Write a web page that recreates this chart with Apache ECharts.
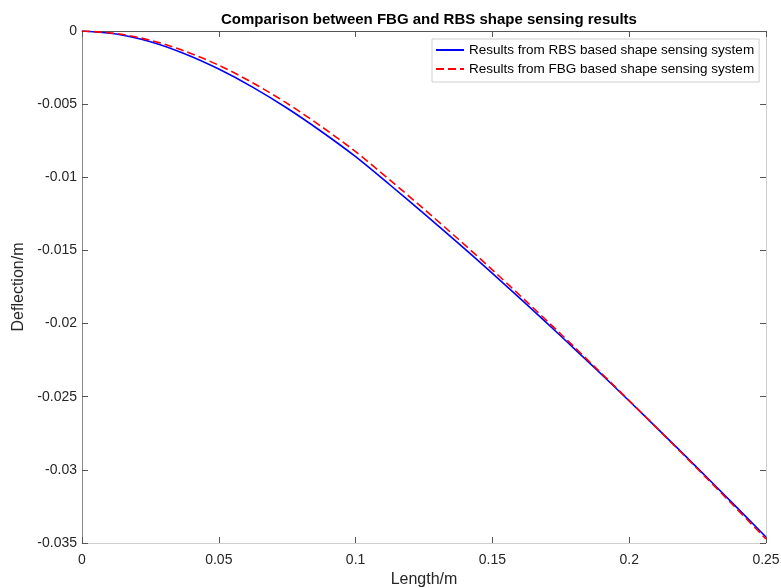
<!DOCTYPE html>
<html>
<head>
<meta charset="utf-8">
<script src="https://cdn.jsdelivr.net/npm/echarts@6/dist/echarts.min.js"></script>
<style>html,body{margin:0;padding:0;background:#fff;}#c{width:781px;height:588px;}</style>
</head>
<body>
<div id="c"></div>
<script>
const lengths = [0, 0.0125, 0.025, 0.0375, 0.05, 0.0625, 0.075, 0.0875, 0.1, 0.1125, 0.125, 0.1375, 0.15, 0.1625, 0.175, 0.1875, 0.2, 0.2125, 0.225, 0.2375, 0.25];
const rbsDeflection = [0, -0.0002, -0.00073, -0.00155, -0.0026, -0.00385, -0.00528, -0.00687, -0.00859, -0.01051, -0.01248, -0.0145, -0.01657, -0.01869, -0.02085, -0.02305, -0.02529, -0.02757, -0.02988, -0.03222, -0.03459];
const fbgDeflection = [0, -0.00017, -0.00063, -0.00137, -0.00234, -0.00355, -0.00495, -0.00653, -0.00825, -0.01018, -0.01217, -0.01422, -0.01633, -0.0185, -0.02071, -0.02297, -0.02526, -0.02759, -0.02994, -0.03232, -0.03473];
const seriesNames = ['Results from RBS based shape sensing system', 'Results from FBG based shape sensing system'];
const xTickLabels = ['0', '0.05', '0.1', '0.15', '0.2', '0.25'];
const yTickLabels = ['0', '-0.005', '-0.01', '-0.015', '-0.02', '-0.025', '-0.03', '-0.035'];

const font = 'Liberation Sans, Arial, Helvetica, sans-serif';
const chart = echarts.init(document.getElementById('c'), null, {renderer: 'canvas'});
const fmt = v => String(+(+v).toFixed(4));
const pair = (xs, ys) => xs.map((x, i) => [x, ys[i]]);
const tick = {show: true, inside: true, length: 6, lineStyle: {color: '#555'}};

chart.setOption({
  animation: false,
  backgroundColor: '#fff',
  title: {
    text: 'Comparison between FBG and RBS shape sensing results',
    left: 424, top: 7, textAlign: 'center',
    textStyle: {fontFamily: font, fontSize: 15, fontWeight: 'bold', color: '#000'}
  },
  legend: {
    orient: 'vertical', left: 432, top: 39,
    padding: [4, 5, 6, 3], itemGap: 5, itemWidth: 28, itemHeight: 14,
    backgroundColor: '#fff', borderColor: '#cfcfcf', borderWidth: 1, borderRadius: 0,
    itemStyle: {opacity: 0},
    textStyle: {fontFamily: font, fontSize: 13.5, color: '#000'},
    data: seriesNames
  },
  grid: {left: 82, right: 15, top: 31, bottom: 45, containLabel: false, outerBoundsMode: 'none'},
  xAxis: [{
    type: 'value', min: 0, max: 0.25, interval: 0.05,
    name: 'Length/m', nameLocation: 'middle', nameGap: 27,
    nameTextStyle: {fontFamily: font, fontSize: 16, color: '#262626'},
    axisLine: {show: true, onZero: false, lineStyle: {color: '#cfcfcf', width: 1}},
    axisTick: tick,
    axisLabel: {fontFamily: font, fontSize: 14, color: '#262626', margin: 10,
      formatter: v => { const i = xTickLabels.indexOf(fmt(v)); return i >= 0 ? xTickLabels[i] : fmt(v); }},
    splitLine: {show: false}
  }, {
    type: 'value', position: 'top', min: 0, max: 0.25, interval: 0.05,
    axisLine: {show: true, onZero: false, lineStyle: {color: '#555', width: 1}},
    axisTick: tick,
    axisLabel: {show: false}, splitLine: {show: false}
  }],
  yAxis: [{
    type: 'value', min: -0.035, max: 0, interval: 0.005,
    name: 'Deflection/m', nameLocation: 'middle', nameGap: 53,
    nameTextStyle: {fontFamily: font, fontSize: 16, color: '#262626'},
    axisLine: {show: true, onZero: false, lineStyle: {color: '#888', width: 1}},
    axisTick: tick,
    axisLabel: {fontFamily: font, fontSize: 14, color: '#262626', margin: 5,
      formatter: v => { const i = yTickLabels.indexOf(fmt(v)); return i >= 0 ? yTickLabels[i] : fmt(v); }},
    splitLine: {show: false}
  }, {
    type: 'value', position: 'right', min: -0.035, max: 0, interval: 0.005,
    axisLine: {show: true, onZero: false, lineStyle: {color: '#cfcfcf', width: 1}},
    axisTick: tick,
    axisLabel: {show: false}, splitLine: {show: false}
  }],
  series: [{
    name: seriesNames[0], type: 'line', smooth: 0.3, symbol: 'none', showSymbol: false,
    data: pair(lengths, rbsDeflection),
    lineStyle: {color: '#0000ff', width: 1.6},
    itemStyle: {color: '#0000ff'}, z: 2
  }, {
    name: seriesNames[1], type: 'line', smooth: 0.3, symbol: 'none', showSymbol: false,
    data: pair(lengths, fbgDeflection),
    lineStyle: {color: '#ff0000', width: 1.6, type: [8, 4]},
    itemStyle: {color: '#ff0000'}, z: 3
  }]
});
</script>
</body>
</html>
